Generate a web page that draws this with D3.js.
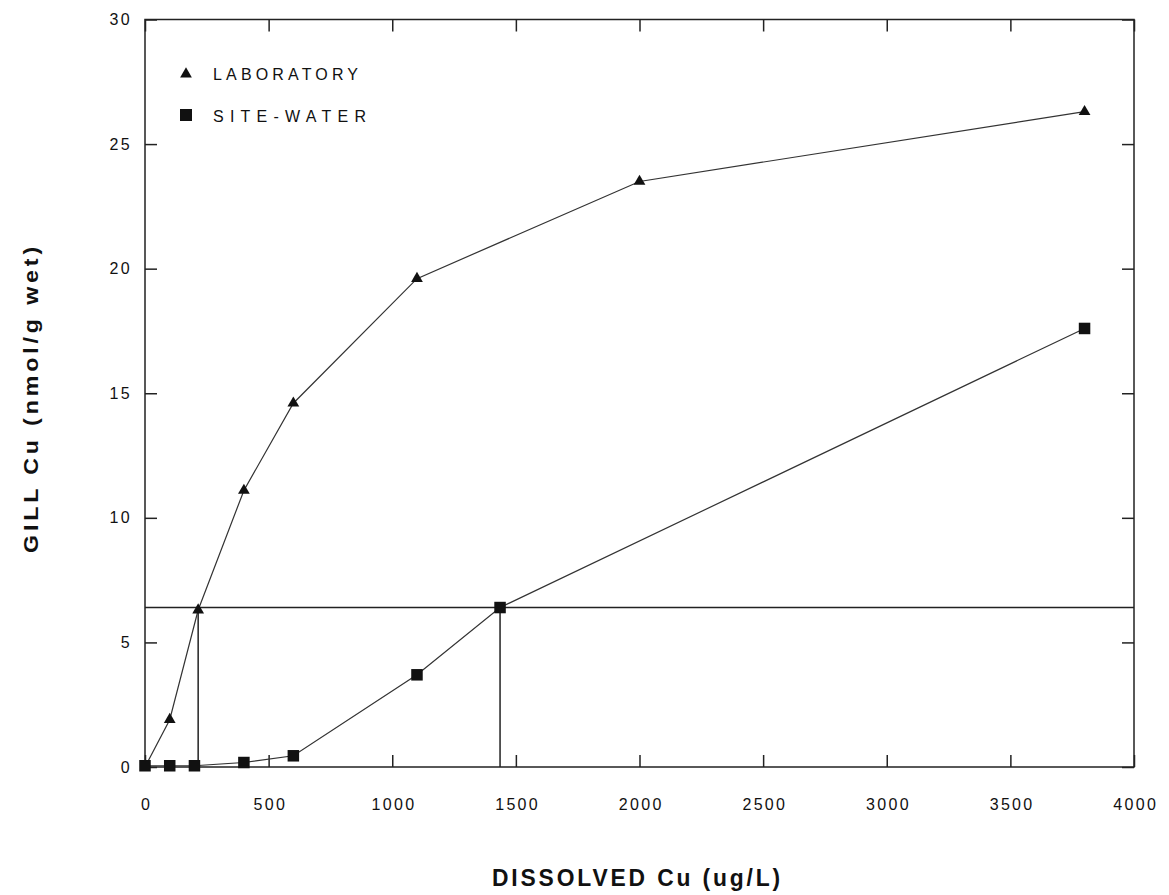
<!DOCTYPE html>
<html>
<head>
<meta charset="utf-8">
<script src="https://cdn.jsdelivr.net/npm/d3@7"></script>
<style>
  body { margin: 0; background: #fff; }
  text { font-family: "Liberation Sans", Arial, sans-serif; fill: #111; }
</style>
</head>
<body>
<svg id="chart" width="1169" height="895"></svg>
<script>
// Gill copper accumulation versus dissolved copper
const labX = [0, 100, 215, 400, 600, 1100, 2000, 3800];
const labY = [0, 1.9, 6.3, 11.1, 14.6, 19.6, 23.5, 26.3];
const siteX = [0, 100, 200, 400, 600, 1100, 1436, 3800];
const siteY = [0.05, 0.05, 0.05, 0.18, 0.45, 3.7, 6.4, 17.6];
const xTicks = [0, 500, 1000, 1500, 2000, 2500, 3000, 3500, 4000];
const yTicks = [0, 5, 10, 15, 20, 25, 30];
const refLevel = 6.4;              // horizontal reference level
const refX = [215, 1436];          // dissolved Cu where each curve reaches it
const seriesNames = ["LABORATORY", "SITE-WATER"];

const svg = d3.select("#chart");
const m = { left: 145, right: 1134, top: 19.5, bottom: 767 };
const x = d3.scaleLinear().domain([0, 4000]).range([m.left, m.right]);
const y = d3.scaleLinear().domain([0, 30]).range([m.bottom, m.top]);
const ink = "#222";

// Frame
svg.append("rect")
  .attr("x", m.left).attr("y", m.top)
  .attr("width", m.right - m.left).attr("height", m.bottom - m.top)
  .attr("fill", "none").attr("stroke", ink).attr("stroke-width", 1.5);

const tickLen = 12;
// Inward ticks on all four sides
const bottomAxis = d3.axisBottom(x).tickValues(xTicks).tickSize(-tickLen).tickPadding(32).tickFormat(d3.format("d"));
const topAxis = d3.axisTop(x).tickValues(xTicks).tickSize(-tickLen).tickFormat("");
const leftAxis = d3.axisLeft(y).tickValues(yTicks).tickSize(-tickLen).tickPadding(13).tickFormat(d3.format("d"));
const rightAxis = d3.axisRight(y).tickValues(yTicks).tickSize(-tickLen).tickFormat("");

function styleAxis(g) {
  g.select(".domain").remove();
  g.selectAll(".tick line").attr("stroke", ink).attr("stroke-width", 1.5);
  g.selectAll(".tick text").attr("font-size", 16).attr("fill", "#1a1a1a")
    .attr("font-family", "'Liberation Sans', Arial, sans-serif")
    .style("letter-spacing", "2.3px");
}
svg.append("g").attr("transform", `translate(0,${m.bottom})`).call(bottomAxis).call(styleAxis)
  .selectAll(".tick text").attr("dx", "1.2px");
svg.append("g").attr("transform", `translate(0,${m.top})`).call(topAxis).call(styleAxis);
svg.append("g").attr("transform", `translate(${m.left},0)`).call(leftAxis).call(styleAxis);
svg.append("g").attr("transform", `translate(${m.right},0)`).call(rightAxis).call(styleAxis);

// Reference lines
svg.append("line")
  .attr("x1", x(0)).attr("x2", x(4000))
  .attr("y1", y(refLevel)).attr("y2", y(refLevel))
  .attr("stroke", ink).attr("stroke-width", 1.5);
svg.selectAll("line.vref").data(refX).join("line")
  .attr("class", "vref")
  .attr("x1", d => x(d)).attr("x2", d => x(d))
  .attr("y1", y(refLevel)).attr("y2", y(0))
  .attr("stroke", ink).attr("stroke-width", 1.5);

const line = d3.line().x(d => x(d[0])).y(d => y(d[1]));
const lab = labX.map((v, i) => [v, labY[i]]);
const site = siteX.map((v, i) => [v, siteY[i]]);

svg.append("path").attr("d", line(lab)).attr("fill", "none").attr("stroke", "#333").attr("stroke-width", 1.2);
svg.append("path").attr("d", line(site)).attr("fill", "none").attr("stroke", "#333").attr("stroke-width", 1.2);

const tri = d3.symbol().type(d3.symbolTriangle).size(60);
const sq = 11.5;

svg.selectAll("path.lab").data(lab.slice(1)).join("path")
  .attr("class", "lab")
  .attr("d", tri)
  .attr("transform", d => `translate(${x(d[0])},${y(d[1])})`)
  .attr("fill", "#111");

svg.selectAll("rect.site").data(site).join("rect")
  .attr("class", "site")
  .attr("x", d => x(d[0]) - sq / 2).attr("y", d => y(d[1]) - sq / 2)
  .attr("width", sq).attr("height", sq)
  .attr("fill", "#111");

// Legend
const legend = svg.append("g");
legend.append("path").attr("d", tri).attr("transform", "translate(186,74)").attr("fill", "#111");
legend.append("rect").attr("x", 180).attr("y", 109).attr("width", 12).attr("height", 12).attr("fill", "#111");
legend.selectAll("text").data(seriesNames).join("text")
  .attr("x", 213).attr("y", (d, i) => 80 + i * 42)
  .attr("font-size", 16)
  .attr("textLength", (d, i) => [145, 153][i])
  .attr("lengthAdjust", "spacing")
  .attr("fill", "#1a1a1a")
  .text(d => d);

// Axis titles: narrow bold glyphs with wide tracking
svg.append("text")
  .attr("x", 492).attr("y", 886)
  .attr("font-size", 24).attr("font-weight", "bold")
  .style("letter-spacing", "3px")
  .attr("textLength", 291)
  .attr("lengthAdjust", "spacingAndGlyphs")
  .text("DISSOLVED Cu (ug/L)");

svg.append("text")
  .attr("transform", "translate(38,553) rotate(-90)")
  .attr("font-size", 21).attr("font-weight", "bold")
  .style("letter-spacing", "3.5px")
  .attr("textLength", 310)
  .attr("lengthAdjust", "spacingAndGlyphs")
  .text("GILL Cu (nmol/g wet)");
</script>
</body>
</html>
